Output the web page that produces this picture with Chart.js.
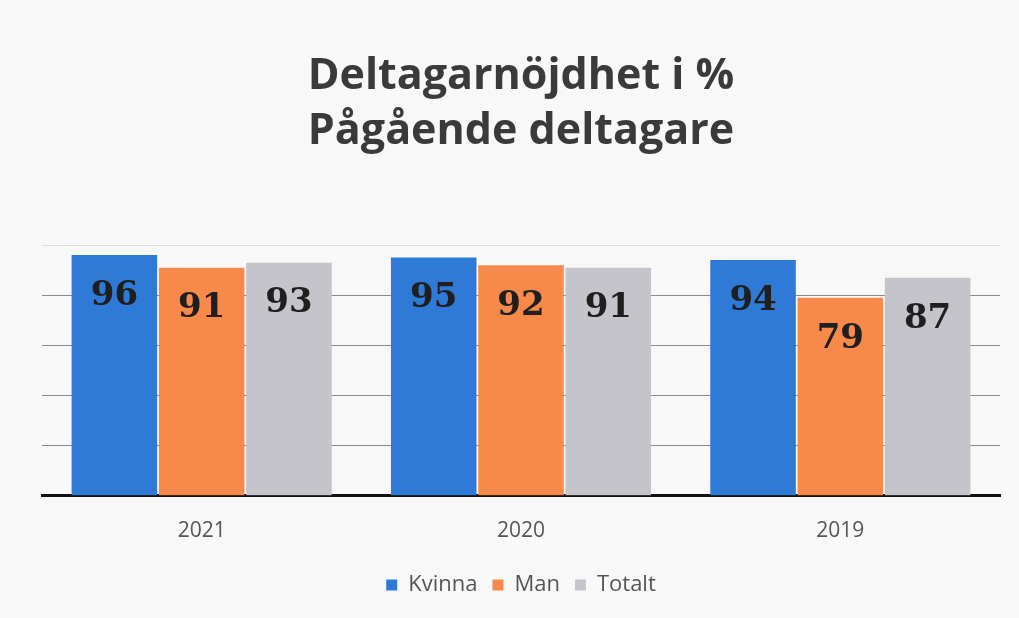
<!DOCTYPE html>
<html>
<head>
<meta charset="utf-8">
<script src="https://cdn.jsdelivr.net/npm/chart.js@4.4.0/dist/chart.umd.min.js"></script>
<style>
  html, body { margin: 0; padding: 0; background: #f8f8f9; }
  #wrap { width: 1019px; height: 618px; }
</style>
</head>
<body>
<div id="wrap"><canvas id="chart" width="1019" height="618"></canvas></div>
<script>
const years = ["2021", "2020", "2019"];
const kvinna = [96, 95, 94];
const man = [91, 92, 79];
const totalt = [93, 91, 87];
const titleLines = ["Deltagarnöjdhet i %", "Pågående deltagare"];

// draws the value inside each bar, near the top
const barLabels = {
  id: "barLabels",
  afterDatasetsDraw(chart) {
    const ctx = chart.ctx;
    ctx.save();
    ctx.font = "bold 34px 'DejaVu Serif'";
    ctx.fillStyle = "#1f1f1f";
    ctx.textAlign = "center";
    ctx.textBaseline = "middle";
    chart.data.datasets.forEach((ds, i) => {
      chart.getDatasetMeta(i).data.forEach((bar, j) => {
        ctx.fillText(ds.data[j], bar.x, bar.y + 41);
      });
    });
    ctx.restore();
  }
};

new Chart(document.getElementById("chart").getContext("2d"), {
  type: "bar",
  data: {
    labels: years,
    datasets: [
      { label: "Kvinna", data: kvinna, backgroundColor: "#2f7ad6" },
      { label: "Man", data: man, backgroundColor: "#f7894a" },
      { label: "Totalt", data: totalt, backgroundColor: "#c4c4ca" },
    ],
  },
  options: {
    responsive: false,
    animation: false,
    layout: { padding: { left: 42, right: 19, top: 0, bottom: 12 } },
    datasets: { bar: { categoryPercentage: 0.82, barPercentage: 0.98 } },
    plugins: {
      title: {
        display: true,
        text: titleLines,
        color: "#3a3a3a",
        font: { family: "'Open Sans'", size: 43, weight: "bold", lineHeight: 1.28 },
        padding: { top: 49, bottom: 86 },
      },
      legend: {
        position: "bottom",
        labels: {
          color: "#555",
          font: { family: "'Open Sans'", size: 22 },
          boxWidth: 11,
          boxHeight: 11,
          padding: 15,
        },
      },
      tooltip: { enabled: false },
    },
    scales: {
      x: {
        grid: { display: false },
        border: { color: "#111", width: 3 },
        ticks: { color: "#555", font: { family: "'Open Sans'", size: 21 }, padding: 15 },
      },
      y: {
        min: 0,
        max: 100,
        ticks: { display: false, stepSize: 20 },
        border: { display: false },
        grid: {
          color: (c) => (c.tick && c.tick.value === 100 ? "#dcdce0" : "#8a8a8a"),
          lineWidth: 1,
          drawTicks: false,
        },
      },
    },
  },
  plugins: [barLabels],
});
</script>
</body>
</html>
